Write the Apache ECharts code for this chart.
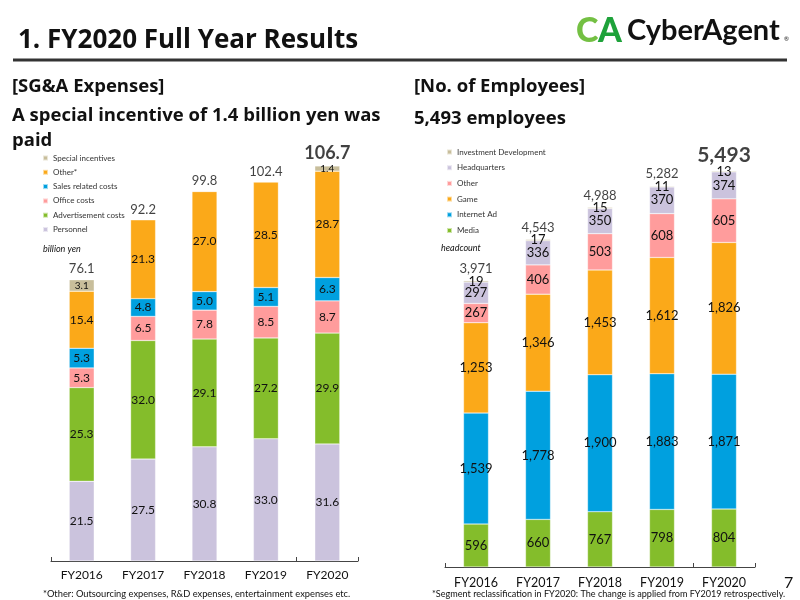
<!DOCTYPE html>
<html>
<head>
<meta charset="utf-8">
<title>FY2020 Full Year Results</title>
<script src="https://cdn.jsdelivr.net/npm/echarts@6/dist/echarts.min.js"></script>
<style>
	html, body {
		margin: 0;
		padding: 0;
		background: #fff;
	}
	#main {
		width: 800px;
		height: 600px;
	}
</style>
</head>
<body>
<div id="main"></div>
<script>
	// 年度
	var years = ['FY2016', 'FY2017', 'FY2018', 'FY2019', 'FY2020'];

	// SG&A (billion yen)
	var personnel = [21.5, 27.5, 30.8, 33.0, 31.6];
	var advertisement = [25.3, 32.0, 29.1, 27.2, 29.9];
	var office = [5.3, 6.5, 7.8, 8.5, 8.7];
	var salesRelated = [5.3, 4.8, 5.0, 5.1, 6.3];
	var otherCost = [15.4, 21.3, 27.0, 28.5, 28.7];
	var specialIncentive = [3.1, 0, 0, 0, 1.4];
	var sgaTotal = [76.1, 92.2, 99.8, 102.4, 106.7];

	// employees (headcount)
	var media = [596, 660, 767, 798, 804];
	var internetAd = [1539, 1778, 1900, 1883, 1871];
	var game = [1253, 1346, 1453, 1612, 1826];
	var otherEmp = [267, 406, 503, 608, 605];
	var headquarters = [297, 336, 350, 370, 374];
	var investDev = [19, 17, 15, 11, 13];
	var empTotal = [3971, 4543, 4988, 5282, 5493];

	var FONT = 'Lato, "Noto Sans", sans-serif';
	var HEAD = '"Open Sans", Lato, sans-serif';
	var C_LAV = '#cbc3dd';
	var C_GREEN = '#84bd2b';
	var C_PINK = '#ff9c9c';
	var C_BLUE = '#00a0df';
	var C_ORANGE = '#fba919';
	var C_KHAKI = '#c8be9b';

	function fmt(v) {
		return Number(v).toLocaleString('en-US');
	}

	function barSeries(name, data, color, idx, stack, fontSize, isInt) {
		return {
			name: name,
			type: 'bar',
			stack: stack,
			xAxisIndex: idx,
			yAxisIndex: idx,
			barWidth: 25,
			data: data,
			itemStyle: {
				color: color,
				borderColor: 'rgba(255,255,255,0.6)',
				borderWidth: 0.5
			},
			label: {
				show: true,
				position: 'inside',
				color: '#111',
				fontFamily: FONT,
				fontSize: fontSize,
				formatter: function (p) {
					if (!p.value) return '';
					return isInt ? fmt(p.value) : p.value.toFixed(1);
				}
			}
		};
	}

	function totalSeries(data, idx, isInt, lastSize, dist, lastDist) {
		return {
			name: 'total' + idx,
			type: 'scatter',
			xAxisIndex: idx,
			yAxisIndex: idx,
			symbolSize: 1,
			itemStyle: { color: 'rgba(0,0,0,0)' },
			silent: true,
			data: data.map(function (v, i) {
				var last = i === data.length - 1;
				return {
					value: v,
					label: last ? { fontSize: lastSize, fontWeight: 'bold', distance: lastDist } : {}
				};
			}),
			label: {
				show: true,
				position: 'top',
				distance: dist,
				color: '#111',
				fontFamily: FONT,
				fontSize: 13,
				formatter: function (p) {
					return isInt ? fmt(p.value) : p.value.toFixed(1);
				}
			}
		};
	}

	function xAxisCfg(idx, margin, size) {
		return {
			type: 'category',
			gridIndex: idx,
			data: years,
			axisLine: { lineStyle: { color: '#444', width: 1 } },
			axisTick: {
				show: true,
				inside: true,
				length: 4,
				lineStyle: { color: '#444' },
				interval: function (i) { return i === 0 || i === 4; }
			},
			axisLabel: { color: '#111', fontFamily: FONT, fontSize: size, margin: margin }
		};
	}

	function legendCfg(left, top, gap, names) {
		return {
			orient: 'vertical',
			left: left,
			top: top,
			itemWidth: 5,
			itemHeight: 5,
			itemGap: gap,
			icon: 'rect',
			selectedMode: false,
			data: names,
			textStyle: { fontFamily: FONT, fontSize: 8, lineHeight: 10, color: '#333' }
		};
	}

	function txt(text, x, y, font, extra) {
		var style = { text: text, x: x, y: y, font: font, fill: '#111', textVerticalAlign: 'middle' };
		for (var k in extra) style[k] = extra[k];
		return { type: 'text', style: style, silent: true };
	}

	var chart = echarts.init(document.getElementById('main'));
	chart.setOption({
		animation: false,
		textStyle: { fontFamily: FONT },
		grid: [
			{ left: 51, right: 442, top: 116.3, bottom: 39 },
			{ left: 445, right: 45, top: 134.4, bottom: 33 }
		],
		xAxis: [xAxisCfg(0, 8, 12), xAxisCfg(1, 9, 12.5)],
		yAxis: [
			{ type: 'value', gridIndex: 0, min: 0, max: 120, show: false, splitLine: { show: false } },
			{ type: 'value', gridIndex: 1, min: 0, max: 6000, show: false, splitLine: { show: false } }
		],
		legend: [
			legendCfg(37, 148, 4.3, ['Special incentives', 'Other*', 'Sales related costs', 'Office costs', 'Advertisement costs', 'Personnel']),
			legendCfg(441, 142, 5.7, ['Investment Development', 'Headquarters', 'Other', 'Game', 'Internet Ad', 'Media'])
		],
		series: [
			barSeries('Personnel', personnel, C_LAV, 0, 'sga', 12, false),
			barSeries('Advertisement costs', advertisement, C_GREEN, 0, 'sga', 12, false),
			barSeries('Office costs', office, C_PINK, 0, 'sga', 12, false),
			barSeries('Sales related costs', salesRelated, C_BLUE, 0, 'sga', 12, false),
			barSeries('Other*', otherCost, C_ORANGE, 0, 'sga', 12, false),
			barSeries('Special incentives', specialIncentive, C_KHAKI, 0, 'sga', 10, false),
			totalSeries(sgaTotal, 0, false, 18, 3, 3),

			barSeries('Media', media, C_GREEN, 1, 'emp', 13, true),
			barSeries('Internet Ad', internetAd, C_BLUE, 1, 'emp', 13, true),
			barSeries('Game', game, C_ORANGE, 1, 'emp', 13, true),
			barSeries('Other', otherEmp, C_PINK, 1, 'emp', 13, true),
			barSeries('Headquarters', headquarters, C_LAV, 1, 'emp', 13, true),
			barSeries('Investment Development', investDev, C_KHAKI, 1, 'emp', 13, true),
			totalSeries(empTotal, 1, true, 21, 5, 5)
		],
		graphic: [
			// 見出し
			txt('1. FY2020 Full Year Results', 18, 41, 'bold 26px ' + HEAD),
			{ type: 'rect', shape: { x: 13, y: 58.5, width: 774, height: 3 }, style: { fill: '#333' }, silent: true },
			// logo
			txt('C', 576, 31, '900 34px ' + FONT, { fill: '#74c043' }),
			txt('A', 598, 31, '900 34px ' + FONT, { fill: '#1ea23a' }),
			txt('CyberAgent', 627, 31, 'bold 29px ' + FONT),
			txt('®', 784, 39, '6px ' + FONT),

			txt('[SG&A Expenses]', 12, 87, 'bold 18.5px ' + HEAD),
			txt('A special incentive of 1.4 billion yen was', 12, 116, 'bold 18.5px ' + HEAD),
			txt('paid', 12, 141, 'bold 18.5px ' + HEAD),
			txt('[No. of Employees]', 414, 87, 'bold 18.5px ' + HEAD),
			txt('5,493 employees', 414, 119, 'bold 18.5px ' + HEAD),

			txt('billion yen', 43, 249, 'italic 9px ' + FONT),
			txt('headcount', 441, 248, 'italic 9px ' + FONT),

			txt('*Other: Outsourcing expenses, R&D expenses, entertainment expenses etc.', 43, 594, '9.3px ' + FONT),
			txt('*Segment reclassification in FY2020: The change is applied from FY2019 retrospectively.', 432, 594, '9.1px ' + FONT),
			txt('7', 784, 583, '16px ' + FONT)
		]
	});
</script>
</body>
</html>
